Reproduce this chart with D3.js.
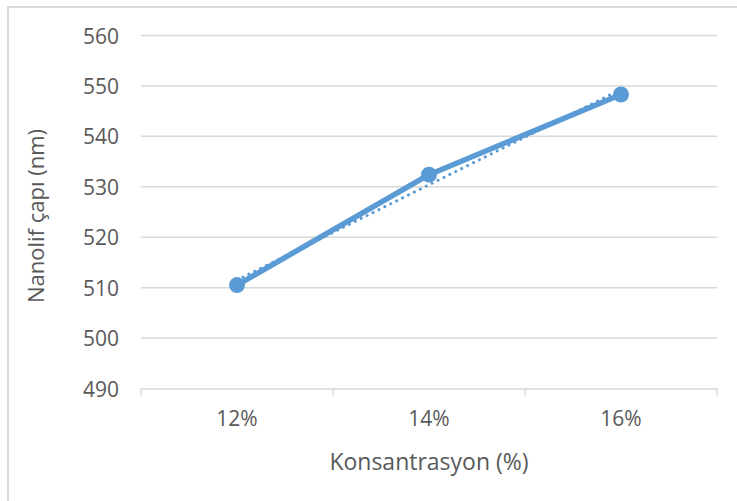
<!DOCTYPE html>
<html>
<head>
<meta charset="utf-8">
<script src="https://cdn.jsdelivr.net/npm/d3@7/dist/d3.min.js"></script>
<style>
  html, body { margin: 0; padding: 0; background: #fff; }
  svg { display: block; }
  text { font-family: "Open Sans", "Noto Sans", sans-serif; fill: #595959; }
</style>
</head>
<body>
<svg id="chart" width="737" height="501"></svg>
<script>
// Fibre diameter against polymer concentration
const categories = ["12%", "14%", "16%"];
const diameters = [510.5, 532.4, 548.3];
const yTicks = [490, 500, 510, 520, 530, 540, 550, 560];

const svg = d3.select("#chart");
const W = 737, H = 501;
const plot = { left: 141, right: 717, top: 35.5, bottom: 388.5 };
const blue = "#5B9BD5";
const grid = "#D9D9D9";

// chart frame (runs past the right and bottom edges)
svg.append("rect")
  .attr("x", 8).attr("y", 7)
  .attr("width", W + 20).attr("height", H + 20)
  .attr("fill", "#fff")
  .attr("stroke", grid).attr("stroke-width", 2);

const x = d3.scaleBand().domain(categories).range([plot.left, plot.right]).padding(0);
const y = d3.scaleLinear().domain([490, 560]).range([plot.bottom, plot.top]);
const cx = d => x(d) + x.bandwidth() / 2;

// horizontal gridlines
svg.append("g").selectAll("line")
  .data(yTicks.filter(t => t !== 490))
  .join("line")
  .attr("x1", plot.left).attr("x2", plot.right)
  .attr("y1", d => y(d)).attr("y2", d => y(d))
  .attr("stroke", grid).attr("stroke-width", 1.5);

// y tick labels
svg.append("g").selectAll("text")
  .data(yTicks)
  .join("text")
  .attr("x", 119).attr("y", d => y(d))
  .attr("text-anchor", "end")
  .attr("dominant-baseline", "central")
  .attr("font-size", 21)
  .text(d => d);

// category axis with boundary ticks
const xAxis = svg.append("g").attr("transform", `translate(0,${plot.bottom})`)
  .call(d3.axisBottom(x).tickSize(0).tickFormat(""));
xAxis.select(".domain").attr("stroke", grid).attr("stroke-width", 1.5);
const bounds = categories.map(c => x(c)).concat([x(categories[categories.length - 1]) + x.bandwidth()]);
xAxis.selectAll(".bound").data(bounds).join("line")
  .attr("class", "bound")
  .attr("x1", d => d).attr("x2", d => d)
  .attr("y1", 0).attr("y2", 7)
  .attr("stroke", grid).attr("stroke-width", 1.5);

svg.append("g").selectAll("text")
  .data(categories)
  .join("text")
  .attr("x", d => cx(d)).attr("y", 426)
  .attr("text-anchor", "middle")
  .attr("font-size", 21)
  .text(d => d);

// linear trendline fitted to the series
const n = diameters.length;
const xs = d3.range(1, n + 1);
const mx = d3.mean(xs), my = d3.mean(diameters);
const slope = d3.sum(xs, (v, i) => (v - mx) * (diameters[i] - my)) / d3.sum(xs, v => (v - mx) ** 2);
const icpt = my - slope * mx;
svg.append("line")
  .attr("x1", cx(categories[0])).attr("y1", y(icpt + slope * 1))
  .attr("x2", cx(categories[n - 1])).attr("y2", y(icpt + slope * n))
  .attr("stroke", blue).attr("stroke-width", 3)
  .attr("stroke-linecap", "round")
  .attr("stroke-dasharray", "0.1 6.5");

// data line and markers
const line = d3.line().x((d, i) => cx(categories[i])).y(d => y(d));
svg.append("path")
  .datum(diameters)
  .attr("d", line)
  .attr("fill", "none")
  .attr("stroke", blue).attr("stroke-width", 5.5)
  .attr("stroke-linejoin", "round").attr("stroke-linecap", "round");

svg.append("g").selectAll("circle")
  .data(diameters)
  .join("circle")
  .attr("cx", (d, i) => cx(categories[i])).attr("cy", d => y(d))
  .attr("r", 8)
  .attr("fill", blue);

// axis titles
svg.append("text")
  .attr("x", (plot.left + plot.right) / 2).attr("y", 470)
  .attr("text-anchor", "middle")
  .attr("font-size", 23)
  .text("Konsantrasyon (%)");

svg.append("text")
  .attr("transform", `translate(44,${(plot.top + plot.bottom) / 2 + 4}) rotate(-90)`)
  .attr("text-anchor", "middle")
  .attr("font-size", 22)
  .text("Nanolif çapı (nm)");
</script>
</body>
</html>
